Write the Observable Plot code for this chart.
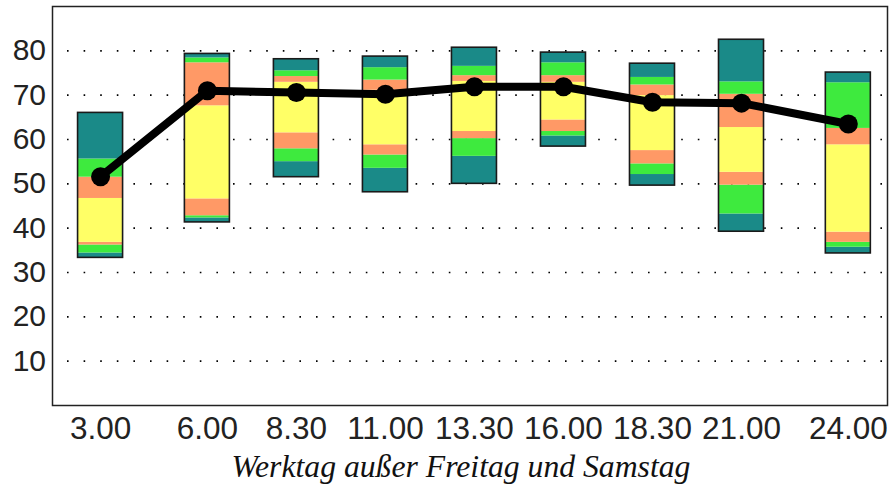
<!DOCTYPE html>
<html><head><meta charset="utf-8">
<script src="https://cdn.jsdelivr.net/npm/d3@7"></script>
<script src="https://cdn.jsdelivr.net/npm/@observablehq/plot@0.6"></script>
<style>
html,body{margin:0;padding:0;background:#fff;}
body{width:889px;height:488px;overflow:hidden;position:relative;}
#title{position:absolute;left:0;top:449px;width:922px;text-align:center;font-family:"Liberation Serif","Times New Roman",serif;font-style:italic;font-size:31.7px;color:#111;white-space:nowrap;}
</style></head>
<body><div id="chart"></div><div id="title">Werktag außer Freitag und Samstag</div>
<script>
// time of day (8.30 = half past eight)
const times = [3, 6, 8.5, 11, 13.5, 16, 18.5, 21, 24];
const tickLabels = ["3.00","6.00","8.30","11.00","13.30","16.00","18.30","21.00","24.00"];
const yTicks = [10, 20, 30, 40, 50, 60, 70, 80];
// band boundaries, bottom to top
const minVals = [33.3, 41.3, 51.5, 48.1, 50.0, 58.4, 49.6, 39.2, 34.3];
const p1Vals  = [34.4, 42.3, 55.0, 53.5, 56.2, 60.8, 52.1, 43.2, 35.7];
const p2Vals  = [36.2, 42.8, 57.9, 56.5, 60.2, 61.8, 54.5, 49.7, 36.8];
const p3Vals  = [36.8, 46.6, 61.5, 58.8, 61.8, 64.4, 57.5, 52.6, 39.1];
const p4Vals  = [46.7, 67.6, 72.9, 71.1, 73.1, 72.9, 69.9, 62.7, 58.8];
const p5Vals  = [51.5, 77.3, 74.2, 73.4, 74.4, 74.4, 72.3, 70.2, 62.5];
const p6Vals  = [55.6, 78.4, 75.5, 76.2, 76.5, 77.3, 74.0, 73.0, 72.8];
const maxVals = [66.0, 79.3, 78.1, 78.7, 80.7, 79.6, 77.1, 82.5, 75.1];
// line through the boxes
const lineVals = [51.6, 71.0, 70.6, 70.2, 71.9, 71.9, 68.4, 68.2, 63.5];

const bounds = [minVals, p1Vals, p2Vals, p3Vals, p4Vals, p5Vals, p6Vals, maxVals];
const bandColors = ["#1a8a88", "#3eea3e", "#ff9966", "#ffff66", "#ff9966", "#3eea3e", "#1a8a88"];
const halfWidth = 0.632;

const bandRows = [];
for (let k = 0; k < bandColors.length; k++) {
  times.forEach((t, i) => bandRows.push({t, lo: bounds[k][i], hi: bounds[k + 1][i], color: bandColors[k]}));
}
const boxes = times.map((t, i) => ({t, lo: minVals[i], hi: maxVals[i]}));
const pts = times.map((t, i) => ({t, v: lineVals[i]}));

const chart = Plot.plot({
  width: 889, height: 450,
  marginLeft: 52, marginRight: 2, marginTop: 6, marginBottom: 45,
  style: {fontSize: "30px", fontFamily: "'Liberation Sans', Arial, sans-serif", color: "#222", background: "#fff", overflow: "visible"},
  x: {domain: [1.65, 25.1], ticks: times, tickFormat: d => tickLabels[times.indexOf(d)], tickSize: 0, tickPadding: 11, label: null},
  y: {domain: [0, 90], ticks: yTicks, tickSize: 0, tickPadding: 6.5, label: null},
  marks: [
    Plot.ruleY(yTicks, {stroke: "#000", strokeWidth: 1.6, strokeDasharray: "1.6 15", strokeDashoffset: -15}),
    Plot.rect(bandRows, {x1: d => d.t - halfWidth, x2: d => d.t + halfWidth, y1: "lo", y2: "hi", fill: d => d.color}),
    Plot.rect(boxes, {x1: d => d.t - halfWidth, x2: d => d.t + halfWidth, y1: "lo", y2: "hi", fill: "none", stroke: "#1a1a1a", strokeWidth: 1.6}),
    Plot.line(pts, {x: "t", y: "v", stroke: "#000", strokeWidth: 8}),
    Plot.dot(pts, {x: "t", y: "v", r: 9.5, fill: "#000"}),
    Plot.frame({stroke: "#222", strokeWidth: 1.5})
  ]
});
document.getElementById("chart").appendChild(chart);
d3.select(chart).selectAll("g[aria-label='x-axis tick label']").style("font-size", "31.5px");
</script>
</body></html>
